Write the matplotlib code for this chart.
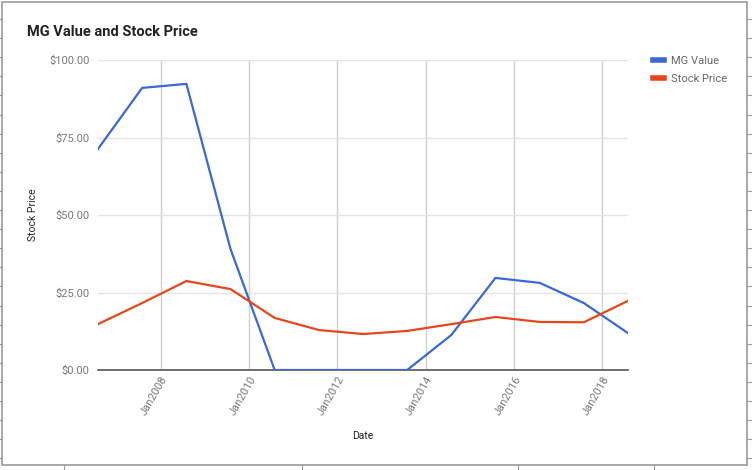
import matplotlib
matplotlib.use("Agg")
import matplotlib.pyplot as plt
import matplotlib.dates as mdates
from matplotlib.lines import Line2D
from matplotlib.patches import Rectangle
import numpy as np
import datetime as dt

plt.rcParams["font.family"] = ["Roboto", "DejaVu Sans"]

# data (one point per year)
years = list(range(2006, 2019))
dates = [dt.date(y, 8, 1) for y in years]
mg_value = [71.3, 91.0, 92.3, 39.0, 0.0, 0.0, 0.0, 0.0, 11.3, 29.7, 28.1, 21.6, 11.9]
stock_price = [14.8, 21.6, 28.7, 26.1, 16.8, 12.9, 11.6, 12.6, 14.8, 17.1, 15.5, 15.4, 22.3]
x_tick_years = [2008, 2010, 2012, 2014, 2016, 2018]
y_ticks = [0, 25, 50, 75, 100]

blue = "#3c68d2"
red = "#e4471e"

fig = plt.figure(figsize=(7.52, 4.70), dpi=100)
ax = fig.add_axes([98 / 752, 1 - 370 / 470, 530 / 752, 310 / 470])

ax.plot(dates, mg_value, color=blue, lw=1.6, label="MG Value", zorder=3)
ax.plot(dates, stock_price, color=red, lw=1.6, label="Stock Price", zorder=3)

ax.set_xlim(dates[0], dates[-1])
ax.set_ylim(0, 100)
ax.set_xticks([dt.date(y, 1, 1) for y in x_tick_years])
ax.xaxis.set_major_formatter(mdates.DateFormatter("%b%Y"))
ax.set_yticks(y_ticks)
ax.set_yticklabels(["${:.2f}".format(v) for v in y_ticks])

ax.grid(axis="y", color="#e3e3e3", lw=1)
ax.grid(axis="x", color="#d0d0d0", lw=1)
for s in ["top", "right", "left"]:
    ax.spines[s].set_visible(False)
ax.spines["bottom"].set_color("#555555")
ax.spines["bottom"].set_linewidth(1.2)
ax.tick_params(length=0, colors="#777777", labelsize=8)
ax.tick_params(axis="y", pad=6)
for lab in ax.get_xticklabels():
    lab.set_rotation(60)
    lab.set_ha("right")
    lab.set_va("top")
    lab.set_rotation_mode("anchor")

ax.set_ylabel("Stock Price", fontsize=7.5, color="#222222", labelpad=8)
ax.set_xlabel("Date", fontsize=7.5, color="#222222", labelpad=10)

fig.text(27 / 752, 1 - 32 / 470, "MG Value and Stock Price", fontsize=10.5,
         fontweight="bold", color="#222222", va="center")

ax.legend(loc="upper left", bbox_to_anchor=(643 / 752, 1 - 46 / 470),
          bbox_transform=fig.transFigure, frameon=False, fontsize=8,
          labelcolor="#666666", handlelength=1.0, handletextpad=0.6,
          labelspacing=0.7)
for h in ax.get_legend().get_lines():
    h.set_linewidth(4)

# outer frame with small ticks around it
fig.add_artist(Rectangle((2 / 752, 5 / 470), 745 / 752, 463 / 470, fill=False,
                         edgecolor="#999999", lw=1.2, transform=fig.transFigure))
for yp in np.arange(19, 460, 19.1):
    fig.add_artist(Line2D([0, 2 / 752], [1 - yp / 470] * 2, color="#999999", lw=0.8))
    fig.add_artist(Line2D([747 / 752, 1], [1 - yp / 470] * 2, color="#999999", lw=0.8))
for xp in [64, 302, 518, 654]:
    fig.add_artist(Line2D([xp / 752] * 2, [0, 5 / 470], color="#999999", lw=0.8))

fig.savefig("out.png", dpi=100)
